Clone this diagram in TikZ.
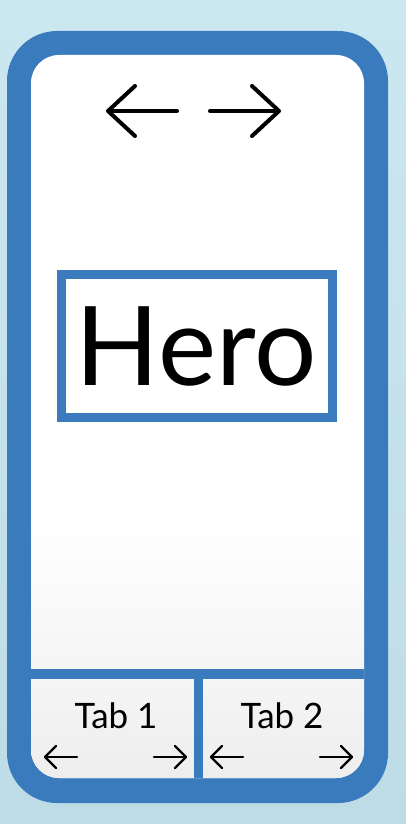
\documentclass[tikz,border=0pt]{standalone}
\usepackage{fontspec}
\setmainfont{Lato}
\definecolor{phoneblue}{HTML}{3A7BBD}
\definecolor{bgtop}{HTML}{CBE8F1}
\definecolor{bgbot}{HTML}{BEDCE5}
\definecolor{tabgray}{HTML}{F5F5F5}
\tikzset{
  icon/.style={line width=4pt, line cap=round, line join=round},
  smallicon/.style={line width=2.4pt, line cap=round, line join=round},
  tablabel/.style={font=\fontsize{35}{35}\selectfont, anchor=base},
}
\begin{document}
\begin{tikzpicture}[x=1pt,y=-1pt]
    % background
    \shade[top color=bgtop, bottom color=bgbot] (0,0) rectangle (406,824);
    \useasboundingbox (0,0) rectangle (406,824);
    % phone frame
    \fill[phoneblue, rounded corners=50pt] (7,31) rectangle (388,803);
    \fill[white, rounded corners=28pt] (31,55) rectangle (364,778);
    \begin{scope}
        \clip[rounded corners=28pt] (31,55) rectangle (364,778);
        \shade[top color=white, bottom color=tabgray] (31,520) rectangle (364,669);
        \shade[top color=tabgray, bottom color=tabgray!97!black] (31,679) rectangle (364,778);
    \end{scope}
    \fill[phoneblue] (31,669) rectangle (364,679);
    \fill[phoneblue] (194,679) rectangle (203,778);
    % top arrows
    \draw[icon] (177,111) -- (109,111);
    \draw[icon] (135,86) -- (108,111) -- (135,136);
    \draw[icon] (210,111) -- (278,111);
    \draw[icon] (252,86) -- (279,111) -- (252,136);
    % hero
    \draw[phoneblue, line width=9pt] (61.5,274.5) rectangle (332.5,417.5);
    \node[font=\fontsize{110}{110}\selectfont, anchor=base] (hero) at (196,385) {Hero};
    % tabs
    \node[tablabel] (tab1) at (116,728) {Tab 1};
    \node[tablabel] (tab2) at (282,728) {Tab 2};
    \draw[smallicon] (77,757) -- (45,757);
    \draw[smallicon] (56,746) -- (45,757) -- (56,768);
    \draw[smallicon] (154,757) -- (186,757);
    \draw[smallicon] (175,746) -- (186,757) -- (175,768);
    \draw[smallicon] (243,757) -- (211,757);
    \draw[smallicon] (222,746) -- (211,757) -- (222,768);
    \draw[smallicon] (320,757) -- (352,757);
    \draw[smallicon] (341,746) -- (352,757) -- (341,768);
\end{tikzpicture}
\end{document}
